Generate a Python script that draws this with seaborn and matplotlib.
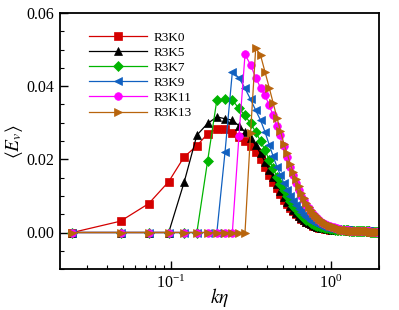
#!/usr/bin/env python3

import matplotlib
matplotlib.use("Agg")
import matplotlib.pyplot as plt
import matplotlib.ticker as mticker
import numpy as np
import pandas as pd
import seaborn as sns


# wavenumber grid k*eta (uniform spacing, 82 modes)
dk = 0.0242
k_eta = np.arange(1, 83) * dk

# values for modes n = 1..47
r3k0 = [0, 0.0031, 0.0079, 0.0139, 0.0207, 0.0237, 0.0270, 0.0283, 0.0283, 0.0272,
        0.0261, 0.0250, 0.0236, 0.0220, 0.0200, 0.0178, 0.0158, 0.0139, 0.0121, 0.0104,
        0.0090, 0.0078, 0.0067, 0.0058, 0.0050, 0.0044, 0.0038, 0.0033, 0.0029, 0.0025,
        0.0022, 0.0019, 0.0017, 0.0015, 0.0013, 0.0012, 0.0011, 0.0010, 0.0009, 0.0009,
        0.0008, 0.0008, 0.0008, 0.0007, 0.0007, 0.0007, 0.0007]
r3k5 = [0, 0, 0, 0, 0.0138, 0.0266, 0.0298, 0.0316, 0.0311, 0.0307,
        0.0292, 0.0275, 0.0258, 0.0238, 0.0216, 0.0193, 0.0171, 0.0151, 0.0132, 0.0114,
        0.0098, 0.0084, 0.0072, 0.0062, 0.0053, 0.0046, 0.0040, 0.0035, 0.0030, 0.0026,
        0.0023, 0.0020, 0.0018, 0.0016, 0.0014, 0.0013, 0.0012, 0.0011, 0.0010, 0.0009,
        0.0009, 0.0008, 0.0008, 0.0008, 0.0007, 0.0007, 0.0007]
r3k7 = [0, 0, 0, 0, 0, 0, 0.0195, 0.0362, 0.0364, 0.0362,
        0.0339, 0.0320, 0.0298, 0.0275, 0.0250, 0.0225, 0.0198, 0.0175, 0.0153, 0.0133,
        0.0115, 0.0099, 0.0085, 0.0073, 0.0063, 0.0054, 0.0047, 0.0041, 0.0035, 0.0031,
        0.0027, 0.0024, 0.0021, 0.0019, 0.0017, 0.0015, 0.0014, 0.0013, 0.0012, 0.0011,
        0.0010, 0.0009, 0.0009, 0.0008, 0.0008, 0.0008, 0.0007]
r3k9 = [0, 0, 0, 0, 0, 0, 0, 0, 0.0220, 0.0439,
        0.0423, 0.0394, 0.0364, 0.0334, 0.0307, 0.0275, 0.0240, 0.0208, 0.0180, 0.0156,
        0.0135, 0.0117, 0.0101, 0.0087, 0.0075, 0.0065, 0.0056, 0.0049, 0.0042, 0.0037,
        0.0032, 0.0028, 0.0025, 0.0022, 0.0020, 0.0018, 0.0016, 0.0015, 0.0013, 0.0012,
        0.0011, 0.0010, 0.0010, 0.0009, 0.0009, 0.0008, 0.0008]
r3k11 = [0, 0, 0, 0, 0, 0, 0, 0, 0, 0,
         0.0264, 0.0487, 0.0458, 0.0423, 0.0396, 0.0375, 0.0348, 0.0320, 0.0290, 0.0266,
         0.0236, 0.0207, 0.0180, 0.0157, 0.0136, 0.0117, 0.0101, 0.0088, 0.0076, 0.0066,
         0.0057, 0.0050, 0.0044, 0.0039, 0.0034, 0.0030, 0.0027, 0.0024, 0.0021, 0.0019,
         0.0017, 0.0015, 0.0014, 0.0012, 0.0011, 0.0010, 0.0009]
r3k13 = [0, 0, 0, 0, 0, 0, 0, 0, 0, 0,
         0, 0, 0.0273, 0.0505, 0.0485, 0.0439, 0.0396, 0.0354, 0.0314, 0.0277,
         0.0243, 0.0216, 0.0188, 0.0166, 0.0145, 0.0126, 0.0109, 0.0095, 0.0082, 0.0071,
         0.0062, 0.0054, 0.0047, 0.0042, 0.0037, 0.0033, 0.0029, 0.0026, 0.0023, 0.0021,
         0.0019, 0.0017, 0.0015, 0.0014, 0.0012, 0.0011, 0.0010]
# modes n = 48..82, all cases collapse onto one another there
tail = [0.0007, 0.0007, 0.0006, 0.0006, 0.0006, 0.0006, 0.0005, 0.0005, 0.0005, 0.0005,
        0.0005, 0.0004, 0.0004, 0.0004, 0.0004, 0.0004, 0.0004, 0.0003, 0.0003, 0.0003,
        0.0003, 0.0003, 0.0003, 0.0003, 0.0003, 0.0002, 0.0002, 0.0002, 0.0002, 0.0002,
        0.0002, 0.0002, 0.0002, 0.0002, 0.0002]

cases = ["R3K0", "R3K5", "R3K7", "R3K9", "R3K11", "R3K13"]
series = [r3k0, r3k5, r3k7, r3k9, r3k11, r3k13]
colors = ["#d40000", "#000000", "#00b400", "#1060c0", "#ff00ff", "#b8640c"]
markers = ["s", "^", "D", "<", "o", ">"]

df = pd.concat(
    [pd.DataFrame({"k": k_eta, "Ev": vals + tail, "case": name})
     for name, vals in zip(cases, series)],
    ignore_index=True,
)

plt.rcParams["font.family"] = ["Liberation Serif", "DejaVu Serif"]
plt.rcParams["mathtext.fontset"] = "stix"

fig = plt.figure(figsize=(3.99, 3.10), dpi=100)
ax = fig.add_axes([0.150, 0.132, 0.800, 0.826])

for name, col, mk in zip(cases, colors, markers):
    sns.lineplot(data=df[df["case"] == name], x="k", y="Ev", ax=ax, color=col,
                 marker=mk, markersize=5.5 if mk != "D" else 5, markeredgecolor=col,
                 markeredgewidth=0.5, linewidth=0.9, label=name)

ax.set_xscale("log")
ax.set_xlim(0.0202, 2.0)
ax.set_ylim(-0.01, 0.06)
ax.yaxis.set_major_locator(mticker.MultipleLocator(0.02))
ax.yaxis.set_minor_locator(mticker.MultipleLocator(0.005))
ax.yaxis.set_major_formatter(mticker.FormatStrFormatter("%.2f"))
ax.xaxis.set_major_locator(mticker.LogLocator(base=10))
ax.xaxis.set_minor_locator(mticker.LogLocator(base=10, subs=np.arange(2, 10)))
ax.xaxis.set_minor_formatter(mticker.NullFormatter())

ax.tick_params(which="both", direction="in", top=False, right=False, labelsize=11.5)
ax.tick_params(which="major", length=6, width=1, pad=4)
ax.tick_params(which="minor", length=3, width=0.8)
for sp in ax.spines.values():
    sp.set_linewidth(1.3)

ax.set_xlabel(r"$k\eta$", fontsize=14, labelpad=-4)
ax.set_ylabel(r"$\langle E_v \rangle$", fontsize=14, labelpad=1)

ax.legend(loc="upper left", bbox_to_anchor=(0.055, 0.975), frameon=False, fontsize=9.5,
          handlelength=4.4, labelspacing=0.22, handletextpad=0.5)

fig.savefig("out.png", dpi=100)
